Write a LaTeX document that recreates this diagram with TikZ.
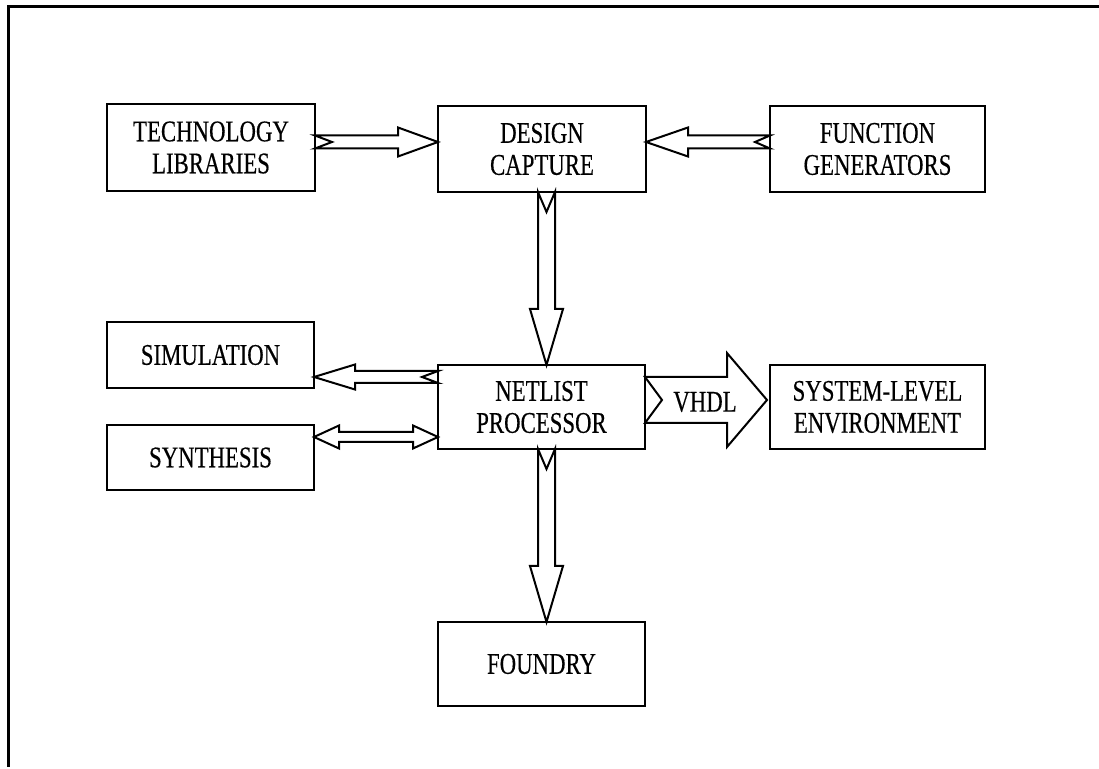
\documentclass[tikz,border=0pt]{standalone}
\usepackage{fontspec}
\newfontfamily\boxfont[FakeStretch=0.76,FakeBold=0.4]{Liberation Serif}
\usetikzlibrary{calc}
\tikzset{
  box/.style={draw, line width=1pt, inner sep=0pt, outer sep=0pt, align=center,
    font=\boxfont\fontsize{15}{16}\selectfont},
  arrowline/.style={draw, line width=1pt, line join=miter},
  lbl/.style={inner sep=0pt, font=\boxfont\fontsize{15}{16}\selectfont},
  frameline/.style={line width=1.5pt}
}
% #1 tail, #2 tip, #3 shaft half width, #4 head half width, #5 head length, #6 notch depth
\newcommand{\myfatarrow}[6]{%
  \path ($(#2)!#5!(#1)$) coordinate (hbtmp);
  \draw[arrowline] ($(#1)!#3!90:(#2)$) -- ($(hbtmp)!#3!90:(#2)$) -- ($(hbtmp)!#4!90:(#2)$)
    -- (#2) -- ($(hbtmp)!#4!-90:(#2)$) -- ($(hbtmp)!#3!-90:(#2)$) -- ($(#1)!#3!-90:(#2)$)
    -- ($(#1)!#6!(#2)$) -- cycle;
}
% #1 end A, #2 end B, #3 shaft half width, #4 head half width, #5 head length
\newcommand{\mydblarrow}[5]{%
  \path ($(#2)!#5!(#1)$) coordinate (hbB) ($(#1)!#5!(#2)$) coordinate (hbA);
  \draw[arrowline] (#1) -- ($(hbA)!#4!90:(#2)$) -- ($(hbA)!#3!90:(#2)$) -- ($(hbB)!#3!90:(#2)$)
    -- ($(hbB)!#4!90:(#2)$) -- (#2) -- ($(hbB)!#4!-90:(#2)$) -- ($(hbB)!#3!-90:(#2)$)
    -- ($(hbA)!#3!-90:(#2)$) -- ($(hbA)!#4!-90:(#2)$) -- cycle;
}
\begin{document}
\begin{tikzpicture}[x=0.5pt,y=-0.5pt]
\useasboundingbox (0,0) rectangle (1099,769);
% frame
\draw[frameline] (1099,7) -- (8,7) -- (8,767);
% boxes
\node[box, minimum width=104pt, minimum height=43.5pt] (tech) at (211,147.5) {TECHNOLOGY\\LIBRARIES};
\node[box, minimum width=104pt, minimum height=43pt] (design) at (542,149) {DESIGN\\CAPTURE};
\node[box, minimum width=107.5pt, minimum height=43pt] (func) at (877.5,149) {FUNCTION\\GENERATORS};
\node[box, minimum width=103.5pt, minimum height=33pt] (sim) at (210.5,355) {SIMULATION};
\node[box, minimum width=103.5pt, minimum height=32.5pt] (synth) at (210.5,457.5) {SYNTHESIS};
\node[box, minimum width=103.5pt, minimum height=42pt] (netlist) at (541.5,407) {NETLIST\\PROCESSOR};
\node[box, minimum width=107.5pt, minimum height=42pt] (sys) at (877.5,407) {SYSTEM-LEVEL\\ENVIRONMENT};
\node[box, minimum width=103.5pt, minimum height=42pt] (foundry) at (541.5,664) {FOUNDRY};
% connector end points
\coordinate (a1) at ($(tech.east)+(0,-5.5)$);
\coordinate (b1) at (design.west |- a1);
\coordinate (a2) at ($(func.west)+(0,-7)$);
\coordinate (b2) at (design.east |- a2);
\coordinate (a3) at ($(design.south)+(4.5,0)$);
\coordinate (b3) at (netlist.north -| a3);
\coordinate (a4) at ($(netlist.south)+(5,0)$);
\coordinate (b4) at (foundry.north -| a4);
\coordinate (a5) at ($(netlist.west)+(0,-30)$);
\coordinate (b5) at (sim.east |- a5);
\coordinate (a6) at ($(synth.east)+(0,-20.5)$);
\coordinate (b6) at (netlist.west |- a6);
\coordinate (a7) at ($(netlist.east)+(0,-7)$);
\coordinate (b7) at ($(sys.west |- a7)+(-3,0)$);
% connectors
\myfatarrow{a1}{b1}{3.25pt}{7.25pt}{20pt}{8.5pt}
\myfatarrow{a2}{b2}{3.25pt}{7.25pt}{21pt}{7.5pt}
\myfatarrow{a3}{b3}{4.25pt}{8.25pt}{28pt}{10pt}
\myfatarrow{a4}{b4}{4.25pt}{8.25pt}{28pt}{10pt}
\myfatarrow{a5}{b5}{3pt}{6.25pt}{20.5pt}{8pt}
\mydblarrow{a6}{b6}{2.5pt}{5.75pt}{12.5pt}
\myfatarrow{a7}{b7}{11.5pt}{23.5pt}{20pt}{8.5pt}
\node[lbl] (vhdl) at (705,402) {VHDL};
\end{tikzpicture}
\end{document}
